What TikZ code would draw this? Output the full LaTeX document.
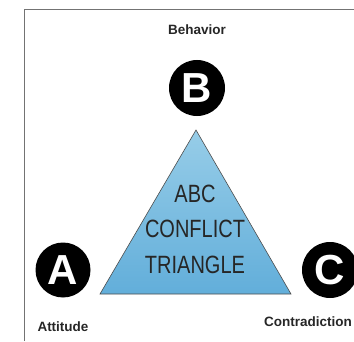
\documentclass[tikz,border=0pt]{standalone}
\usepackage{fontspec}
\setmainfont{Liberation Sans}
\newfontfamily\narrowfont[FakeStretch=0.8]{Liberation Sans}
\usetikzlibrary{positioning}
\definecolor{trilight}{HTML}{97CDE8}
\definecolor{tridark}{HTML}{62AEDA}
\begin{document}
\begin{tikzpicture}[x=1pt,y=1pt,
	letter/.style={circle,fill=black,text=white,minimum size=56pt,inner sep=0pt,font=\fontsize{42}{42}\selectfont\bfseries},
	caption/.style={font=\fontsize{13.5}{14}\selectfont\bfseries,text=black!85},
	tritext/.style={font=\narrowfont\fontsize{25}{35.5}\selectfont,align=center,text=black!85}]
		\useasboundingbox (0,0) rectangle (354,341);
		\draw[black!55,line width=1pt] (24,0)--(24,331)--(354,331);
		\coordinate (top) at (196,211);
		\coordinate (left) at (100,47);
		\coordinate (right) at (291,47);
		\shade[top color=trilight,bottom color=tridark,draw=black!70,line width=0.6pt] (top)--(left)--(right)--cycle;
		\node[tritext] (abc) at (195,112) {ABC\\CONFLICT\\TRIANGLE};
		\node[letter] (B) at (197,253) {B};
		\node[letter,minimum size=55pt] (A) at (63,71) {A};
		\node[letter] (C) at (330,71) {C};
		\node[caption] (beh) at (197,311) {Behavior};
		\node[caption] (att) at (63,14) {Attitude};
		\node[caption] (con) at (308,19) {Contradiction};
	\end{tikzpicture}
\end{document}
